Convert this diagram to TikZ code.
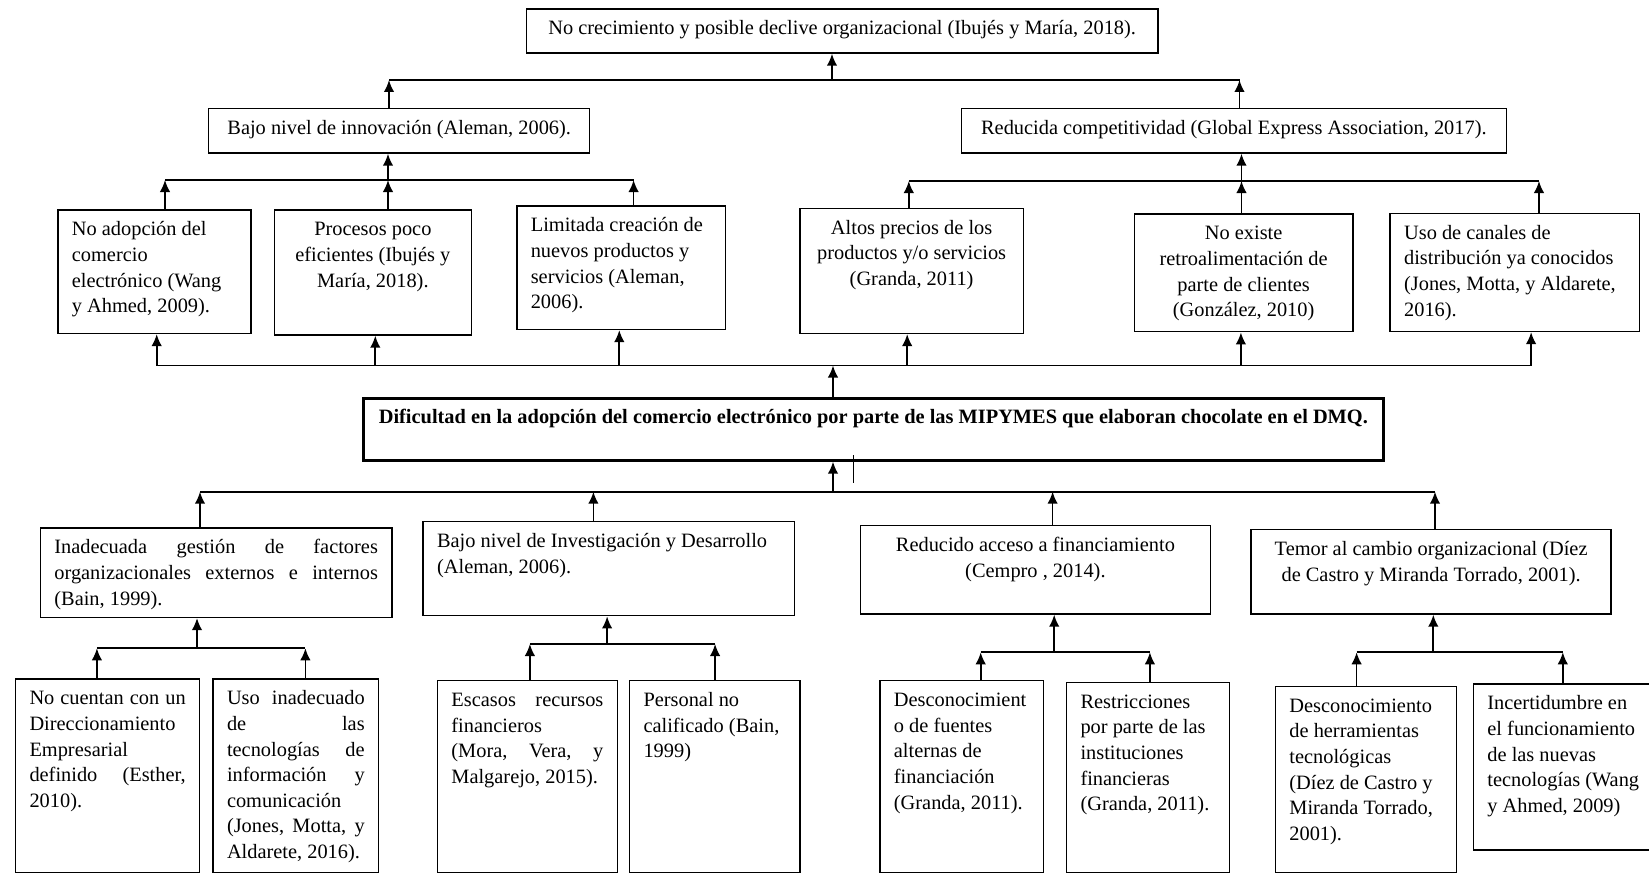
\documentclass[tikz,border=0pt]{standalone}
\usepackage{fontspec}
\setmainfont{Liberation Serif}
\usepackage{tikz}
\usetikzlibrary{arrows.meta}
\hyphenpenalty=10000
\exhyphenpenalty=10000
\tikzset{
  caja/.style={draw, line width=0.8pt, anchor=north west, inner xsep=0.28cm, inner ysep=0.155cm, font=\fontsize{11.6}{14.6}\selectfont},
  flecha/.style={-{Latex[length=0.24cm,width=0.21cm]}, line width=1pt},
  linea/.style={line width=1pt}
}
\def\caja[#1](#2)(#3,#4)(#5,#6)#7{%
  \pgfmathsetmacro\anchocaja{(#5-#3)*0.02-0.56}%
  \pgfmathsetmacro\altocaja{(#6-#4)*0.02-0.31}%
  \node[caja,#1] (#2) at (#3,#4) {\parbox[t][\altocaja cm][t]{\anchocaja cm}{#7}};}

\begin{document}
\begin{tikzpicture}[x=0.02cm, y=-0.02cm]
			%%%%% START %%%%%
			\useasboundingbox (0,0) rectangle (1649,872);
			\clip (0,0) rectangle (1649,872);
			
			% efectos
			\caja[](top)(525.6,8.3)(1157.3,52.3){\makebox[\linewidth]{\strut No crecimiento y posible declive organizacional (Ibujés y María, 2018).}}
			\caja[](bajo)(208,107.7)(589,152.3){\makebox[\linewidth]{\strut Bajo nivel de innovación (Aleman, 2006).}}
			\caja[](reduc)(960.6,107.7)(1505.7,152.3){\makebox[\linewidth]{\strut Reducida competitividad (Global Express Association, 2017).}}
			
			\caja[](e1)(57.2,209.3)(250.4,332.7){\raggedright\strut No adopción del\\ comercio\\ electrónico (Wang\\ y Ahmed, 2009).}
			\caja[](e2)(273.7,209.3)(470.6,334.3){\centering\strut Procesos poco\\ eficientes (Ibujés y\\ María, 2018).}
			\caja[](e3)(516.1,205.3)(724.6,328.7){\raggedright\strut Limitada creación de\\ nuevos productos y\\ servicios (Aleman,\\ 2006).}
			\caja[](e4)(799.3,207.7)(1022.5,332.7){\centering\strut Altos precios de los\\ productos y/o servicios\\ (Granda, 2011)}
			\caja[](e5)(1133.5,213.3)(1352.4,331){\centering\strut No existe\\ retroalimentación de\\ parte de clientes\\ (González, 2010)}
			\caja[](e6)(1389.4,212.7)(1639,330.7){\raggedright\strut Uso de canales de\\ distribución ya conocidos\\ (Jones, Motta, y Aldarete,\\ 2016).}
			
			% problema central
			\caja[line width=1.8pt, font=\fontsize{11.6}{14.6}\selectfont\bfseries](centro)(362,396.7)(1381.5,458.5){\makebox[\linewidth]{\strut Dificultad en la adopción del comercio electrónico por parte de las MIPYMES que elaboran chocolate en el DMQ.}}
			
			% causas
			\caja[](c1)(39.7,527.3)(391.2,616.7){\strut Inadecuada gestión de factores\linebreak organizacionales externos e internos\linebreak (Bain, 1999).}
			\caja[](c2)(422.4,521)(794,615){\raggedright\strut Bajo nivel de Investigación y Desarrollo\\ (Aleman, 2006).}
			\caja[](c3)(859.7,525)(1209.7,613.3){\centering\strut Reducido acceso a financiamiento\\ (Cempro , 2014).}
			\caja[](c4)(1250.4,529)(1610.4,613.3){\centering\strut Temor al cambio organizacional (Díez\\ de Castro y Miranda Torrado, 2001).}
			
			% subcausas
			\caja[](s1)(14.8,678.3)(199,872){\strut No cuentan con un\linebreak Direccionamiento\linebreak Empresarial\linebreak definido (Esther,\linebreak 2010).}
			\caja[](s2)(212.3,678.3)(378,872){\strut Uso inadecuado\linebreak de las\linebreak tecnologías de\linebreak información y\linebreak comunicación\linebreak (Jones, Motta, y\linebreak Aldarete, 2016).}
			\caja[](s3)(436.7,680)(616.7,872){\strut Escasos recursos\linebreak financieros\linebreak (Mora, Vera, y\linebreak Malgarejo, 2015).}
			\caja[](s4)(628.8,680)(799.3,872){\raggedright\strut Personal no\\ calificado (Bain,\\ 1999)}
			\caja[](s5)(879.2,680)(1042.6,872){\raggedright\strut Desconocimient\\ o de fuentes\\ alternas de\\ financiación\\ (Granda, 2011).}
			\caja[](s6)(1065.8,681.7)(1228.7,872){\raggedright\strut Restricciones\\ por parte de las\\ instituciones\\ financieras\\ (Granda, 2011).}
			\caja[](s7)(1274.7,685.7)(1455.5,872){\raggedright\strut Desconocimiento\\ de herramientas\\ tecnológicas\\ (Díez de Castro y\\ Miranda Torrado,\\ 2001).}
			\caja[](s8)(1472.7,683.3)(1660,849.3){\raggedright\strut Incertidumbre en\\ el funcionamiento\\ de las nuevas\\ tecnologías (Wang\\ y Ahmed, 2009)}
			
			% flechas hacia el efecto final
			\coordinate (pA1) at (389,80);
			\coordinate (pA2) at (832,80);
			\coordinate (pA3) at (1239.5,80);
			\draw[linea] (pA1) -- (pA3);
			\draw[flecha] (bajo.north -| pA1) -- (pA1);
			\draw[flecha] (reduc.north -| pA3) -- (pA3);
			\draw[flecha] (pA2) -- (pA2 |- top.south);
			
			% efectos directos
			\foreach \n/\x/\y/\a/\b/\c/\xa/\xb/\xc in {bajo/388/180/e1/e2/e3/165/388/633.6, reduc/1241.5/181/e4/e5/e6/908.8/1241.5/1539}{
				\coordinate (t\n) at (\x,\y);
				\coordinate (t\a) at (\xa,\y);
				\coordinate (t\b) at (\xb,\y);
				\coordinate (t\c) at (\xc,\y);
				\draw[linea] (t\a) -- (t\c);
				\draw[flecha] (t\n) -- (t\n |- \n.south);
				\draw[flecha] (\a.north -| t\a) -- (t\a);
				\draw[flecha] (\b.north -| t\b) -- (t\b);
				\draw[flecha] (\c.north -| t\c) -- (t\c);
			}
			
			% problema -> efectos
			\coordinate (pD0) at (833,365.5);
			\draw[flecha] (centro.north -| pD0) -- (pD0);
			\foreach \x/\n in {156.7/e1, 375.3/e2, 619.3/e3, 907.2/e4, 1240.9/e5, 1531.1/e6}{
				\coordinate (q\n) at (\x,365.5);
				\draw[flecha] (q\n) -- (q\n |- \n.south);
			}
			\draw[linea] (qe1) -- (qe6);
			
			% causas -> problema
			\coordinate (pE0) at (833,491.7);
			\draw[flecha] (pE0) -- (pE0 |- centro.south);
			\foreach \x/\n in {200/c1, 593.4/c2, 1052.6/c3, 1435/c4}{
				\coordinate (r\n) at (\x,491.7);
				\draw[flecha] (\n.north -| r\n) -- (r\n);
			}
			\draw[linea] (rc1) -- (rc4);
			\draw[line width=0.7pt] (853.7,455) -- (853.7,483.3);
			
			% subcausas -> causas
			\foreach \n/\x/\y/\a/\b/\xa/\xb in {c1/197/648.3/s1/s2/96.9/305.4, c2/607.1/644/s3/s4/529.9/715.1, c3/1054.2/652.3/s5/s6/980.7/1149.9, c4/1433.3/652.3/s7/s8/1356.6/1562.8}{
				\coordinate (t\n) at (\x,\y);
				\coordinate (t\a) at (\xa,\y);
				\coordinate (t\b) at (\xb,\y);
				\draw[linea] (t\a) -- (t\b);
				\draw[flecha] (t\n) -- (t\n |- \n.south);
				\draw[flecha] (\a.north -| t\a) -- (t\a);
				\draw[flecha] (\b.north -| t\b) -- (t\b);
			}
			
			%%%%% END %%%%%
\end{tikzpicture}
\end{document}
